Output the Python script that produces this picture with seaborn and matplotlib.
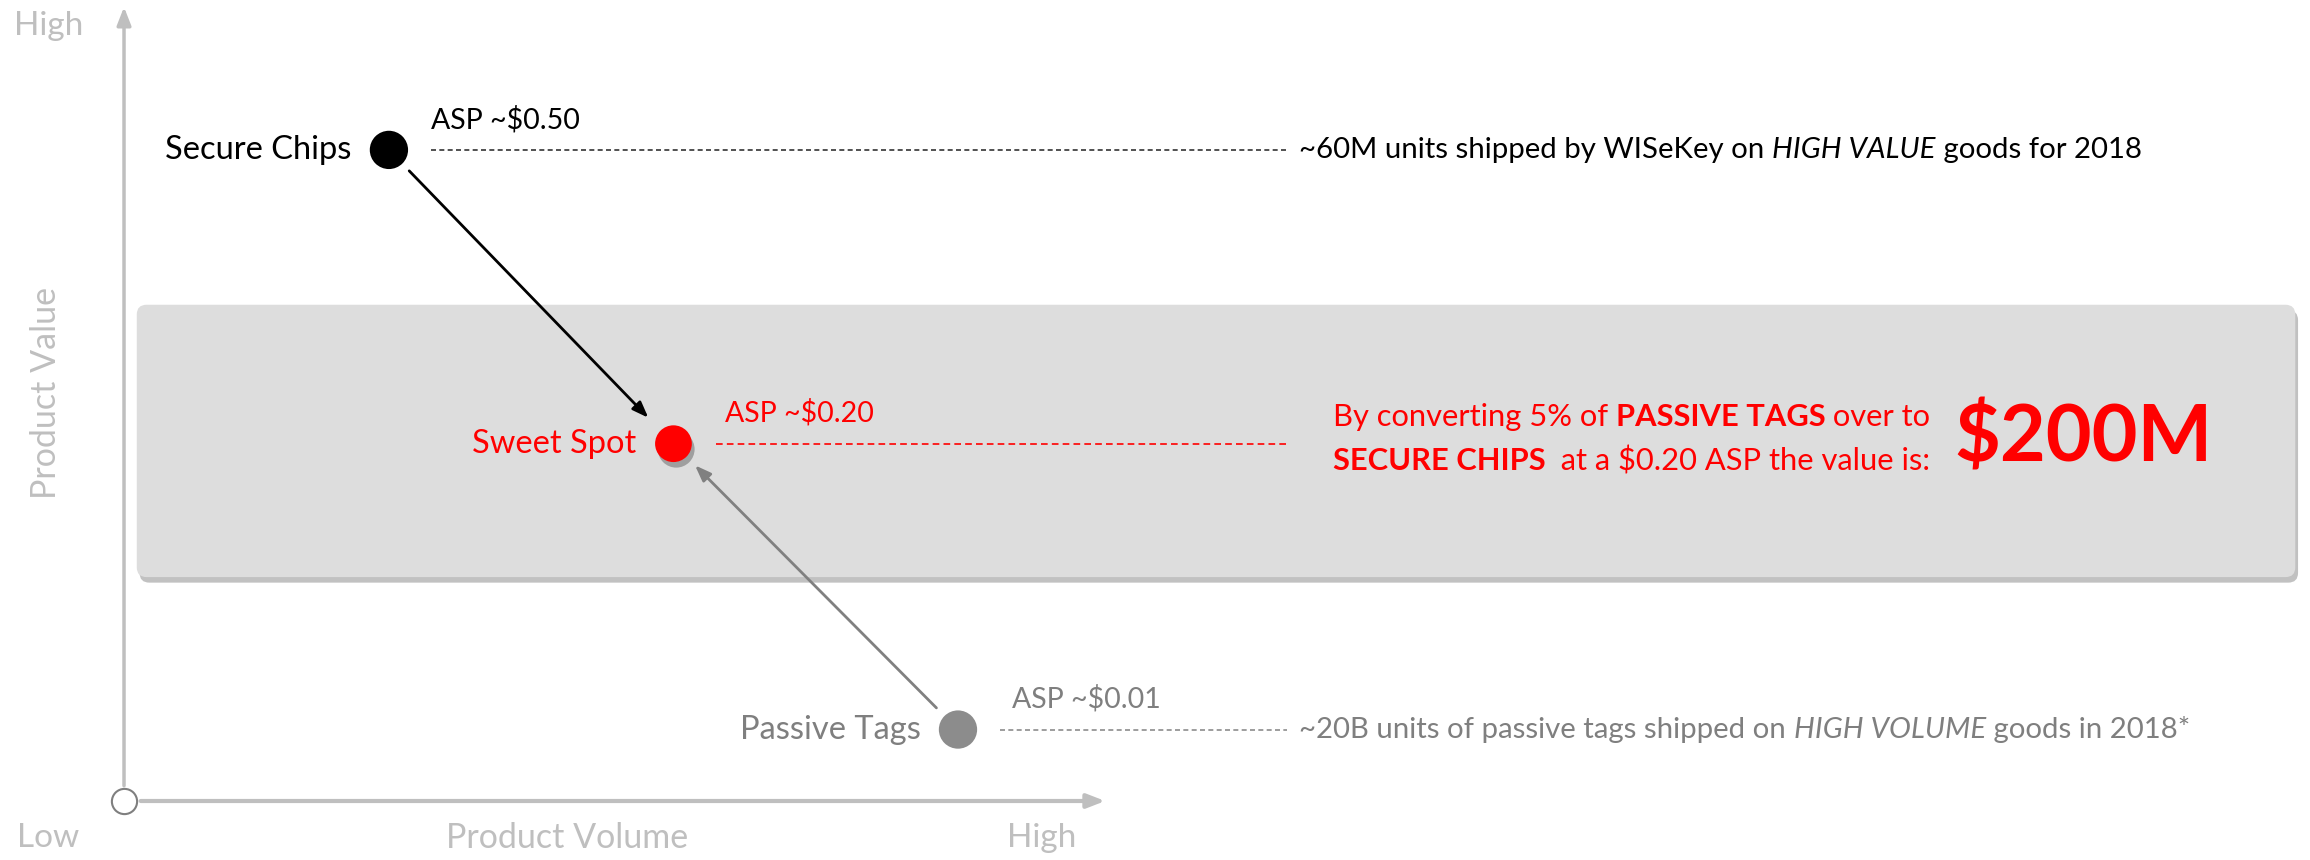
import matplotlib
matplotlib.use("Agg")
import pandas as pd
import matplotlib.pyplot as plt
import matplotlib.patheffects as pe
from matplotlib.patches import FancyBboxPatch
import seaborn as sns

sns.set_theme(style="white")
plt.rcParams["font.family"] = ["Lato", "DejaVu Sans"]
plt.rcParams["text.parse_math"] = False

# positions on a 0..100 scale (0 = low, 100 = high)
products = ["Secure Chips", "Sweet Spot", "Passive Tags"]
volume = [27, 56, 85]
value = [82, 45, 9]
asp_labels = ["ASP ~$0.50", "ASP ~$0.20", "ASP ~$0.01"]
note_pre = ["~60M units shipped by WISeKey on ", "", "~20B units of passive tags shipped on "]
note_em = ["HIGH VALUE", "", "HIGH VOLUME"]
note_post = [" goods for 2018", "", " goods in 2018*"]
msg_line1 = [("By converting 5% of ", "normal"), ("PASSIVE TAGS", "bold"), (" over to", "normal")]
msg_line2 = [("SECURE CHIPS", "bold"), ("  at a $0.20 ASP the value is:", "normal")]
msg_value = "$200M"

dot_colors = {"Secure Chips": "black", "Sweet Spot": "#ff0000", "Passive Tags": "#8c8c8c"}
text_colors = ["black", "#ff0000", "#7f7f7f"]
line_colors = ["#333333", "#ff0000", "#8c8c8c"]
asp_dx = [30, 37, 39]
axis_gray = "#bfbfbf"
RED = "#ff0000"

df = pd.DataFrame({"product": products, "volume": volume, "value": value})

fig = plt.figure(figsize=(23.1, 8.6), dpi=100)
ax = fig.add_axes([0, 0, 1, 1])

# highlighted band
band = FancyBboxPatch((1.3, 28.2), 220.0, 34.3,
                      boxstyle="round,pad=0,rounding_size=1.0",
                      mutation_aspect=9.81 / 7.94,
                      fc="#dddddd", ec="none", zorder=1,
                      path_effects=[pe.SimplePatchShadow(offset=(2, -4), shadow_rgbFace="#999999", alpha=0.6),
                                    pe.Normal()])
ax.add_patch(band)

# axes arrows
ax.annotate("", xy=(0, 100), xytext=(0, 0),
            arrowprops=dict(arrowstyle="-|>,head_length=0.9,head_width=0.35", color=axis_gray,
                            lw=2.5, shrinkA=11, shrinkB=0), zorder=2)
ax.annotate("", xy=(100, 0), xytext=(0, 0),
            arrowprops=dict(arrowstyle="-|>,head_length=0.9,head_width=0.35", color=axis_gray,
                            lw=3, shrinkA=12, shrinkB=0), zorder=2)
ax.scatter([0], [0], s=330, facecolor="white", edgecolor="#7f7f7f", lw=1.5, zorder=3)

ax.text(-7.7, 97.6, "High", color=axis_gray, fontsize=24, ha="center", va="center")
ax.text(-7.7, -4.7, "Low", color=axis_gray, fontsize=24, ha="center", va="center")
ax.text(45.2, -4.7, "Product Volume", color=axis_gray, fontsize=24.5, ha="center", va="center")
ax.text(93.5, -4.7, "High", color=axis_gray, fontsize=24, ha="center", va="center")
ax.text(-8.0, 51.4, "Product Value", color=axis_gray, fontsize=24.5, ha="center", va="center",
        rotation=90)

# transition arrows into the sweet spot
ax.annotate("", xy=(volume[1], value[1]), xytext=(volume[0], value[0]),
            arrowprops=dict(arrowstyle="-|>,head_length=0.8,head_width=0.3", color="black",
                            lw=2, shrinkA=21, shrinkB=26), zorder=4)
ax.annotate("", xy=(volume[1], value[1]), xytext=(volume[2], value[2]),
            arrowprops=dict(arrowstyle="-|>,head_length=0.8,head_width=0.3", color="#808080",
                            lw=2, shrinkA=22, shrinkB=22), zorder=4)

# product points
plain = df[df["product"] != "Sweet Spot"]
sns.scatterplot(data=plain, x="volume", y="value", hue="product", palette=dot_colors,
                s=760, edgecolor="none", legend=False, ax=ax, zorder=5)
sweet = df[df["product"] == "Sweet Spot"]
sns.scatterplot(data=sweet, x="volume", y="value", hue="product", palette=dot_colors,
                s=700, edgecolor="none", legend=False, ax=ax, zorder=5)
ax.collections[-1].set_path_effects([pe.SimplePatchShadow(offset=(2, -4), shadow_rgbFace="#555555",
                                                          alpha=0.45), pe.Normal()])
ax.set_xlim(-12.64, 222.8)
ax.set_ylim(-7.43, 100.88)
ax.axis("off")


def chain(first, parts, color, size, key):
    prev = first
    for txt, style in parts:
        prev = ax.annotate(txt, xy=(1, 0), xycoords=prev, ha="left", va="bottom",
                           color=color, fontsize=size, **{key: style})
    return prev


for i, name in enumerate(products):
    x, y = volume[i], value[i]
    ax.annotate(name, xy=(x, y), xytext=(-27, 0), textcoords="offset points",
                ha="right", va="center", color=text_colors[i], fontsize=23.5)
    ax.annotate(asp_labels[i], xy=(x, y), xytext=(asp_dx[i], 22), textcoords="offset points",
                ha="left", va="center", color=text_colors[i], fontsize=20.5)
    dash = (0, (3, 2)) if i != 1 else (0, (4, 2.5))
    ax.plot([x + 4.3, 118.5], [y, y], color=line_colors[i], lw=1.2, ls=dash, zorder=3)
    if note_pre[i]:
        t = ax.text(119.8, y, note_pre[i], ha="left", va="center", color=text_colors[i], fontsize=21.2)
        chain(t, [(note_em[i], "italic"), (note_post[i], "normal")], text_colors[i], 21.2, "fontstyle")

# conversion message
t1 = ax.text(123.2, 48.3, msg_line1[0][0], ha="left", va="center", color=RED, fontsize=22.2,
             fontweight=msg_line1[0][1])
chain(t1, msg_line1[1:], RED, 22.2, "fontweight")
t2 = ax.text(123.2, 42.8, msg_line2[0][0], ha="left", va="center", color=RED, fontsize=22.2,
             fontweight=msg_line2[0][1])
chain(t2, msg_line2[1:], RED, 22.2, "fontweight")
ax.text(186.6, 45.6, msg_value, ha="left", va="center", color=RED, fontsize=57, fontweight="bold")

fig.savefig("out.png", dpi=100)
